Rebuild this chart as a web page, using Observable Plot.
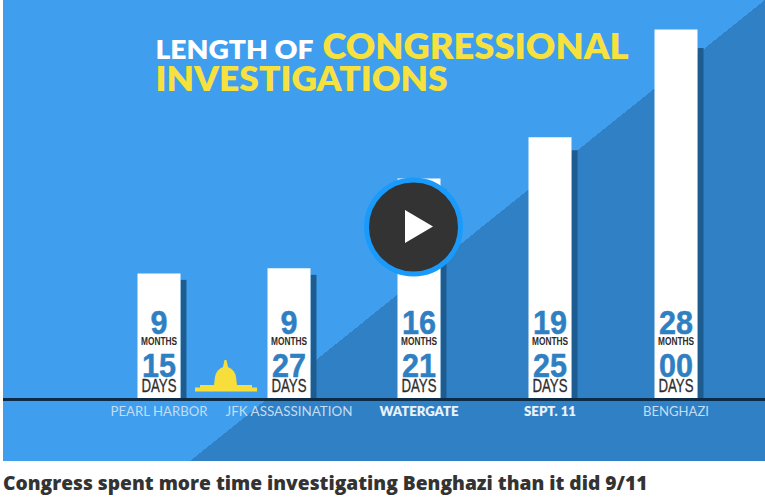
<!DOCTYPE html>
<html>
<head>
<meta charset="utf-8">
<script src="https://cdn.jsdelivr.net/npm/d3@7"></script>
<script src="https://cdn.jsdelivr.net/npm/@observablehq/plot@0.6"></script>
<style>
  html, body { margin: 0; padding: 0; background: #fff; overflow: hidden; }
  #stage { position: relative; width: 765px; height: 501px; overflow: hidden; }
  #bg { position: absolute; left: 3px; top: 0; width: 762px; height: 461px;
        background-color: #3f9fee;
        background-image: linear-gradient(to bottom right, #3f9fee 50%, #3080c5 50%);
        background-size: 575px 461px; background-position: right top; background-repeat: no-repeat; }
  #chart { position: absolute; left: 0; top: 0; }
  #chart svg { background: transparent; display: block; }
  .overlay { position: absolute; left: 0; top: 0; }
  #caption { position: absolute; left: 3px; top: 469px; white-space: nowrap;
             font: 800 19.2px "Open Sans", sans-serif; color: #333; }
</style>
</head>
<body>
<div id="stage">
  <div id="bg"></div>
  <div id="chart"></div>
  <svg class="overlay" width="765" height="461" aria-hidden="true">
    <path fill="#f7de3a" d="M195 391.5 L195 387.5 L200 387.5 L200 385 L214 385 L215 377 Q216 370 223 367 L224.5 360 L226.5 360 L228 367 Q235 370 236 377 L237 385 L252 385 L252 387.5 L257 387.5 L257 391.5 Z"/>
    <circle cx="413.5" cy="227" r="47" fill="#333" stroke="#1a9bfb" stroke-width="5"/>
    <path fill="#fff" d="M405 210 L433 226.5 L405 243 Z"/>
  </svg>
  <div id="caption">Congress spent more time investigating Benghazi than it did 9/11</div>
</div>
<script>
const events = ["PEARL HARBOR", "JFK ASSASSINATION", "WATERGATE", "SEPT. 11", "BENGHAZI"];
const months = [9, 9, 16, 19, 28];
const days = [15, 27, 21, 25, 0];
const dayLabels = ["15", "27", "21", "25", "00"];
const boldEvents = ["WATERGATE", "SEPT. 11"];
const titleWhite = "LENGTH OF";
const titleYellow1 = "CONGRESSIONAL";
const titleYellow2 = "INVESTIGATIONS";

const table = events.map((name, i) => ({
  name, slot: i, months: months[i], days: days[i], dayLabel: dayLabels[i],
  total: months[i] + days[i] / 30
}));

const sans = '"Liberation Sans", sans-serif';
const head = 'Lato, "Noto Sans", sans-serif';
const blue = "#2f80c2", ink = "#2e2a28", yellow = "#f7e13f";
const inBar = (text, dy, opts) => Plot.text(table, {x: "slot", y: () => 0, text, dy, fontFamily: sans, ...opts});

const plot = Plot.plot({
  width: 765, height: 461,
  marginTop: 0, marginRight: 0, marginBottom: 0, marginLeft: 3,
  x: {type: "linear", domain: [0, 1, 2, 3, 4], range: [158.5, 288.5, 418.5, 549.5, 675.5], axis: null},
  y: {domain: [-62 / 13.2, 399 / 13.2], axis: null},
  marks: [
    Plot.ruleX(table, {x: "slot", y1: 0, y2: d => d.total * 0.95, stroke: "#1d5c91", strokeWidth: 6, dx: 24.5}),
    Plot.ruleX(table, {x: "slot", y1: 0, y2: "total", stroke: "#fff", strokeWidth: 43}),
    Plot.ruleY([0], {stroke: "#0c2b47", strokeWidth: 3}),
    inBar(d => String(d.months), -76, {fontSize: 34, fontWeight: 700, fill: blue, stroke: blue, strokeWidth: 0.5, className: "num"}),
    inBar(() => "MONTHS", -58, {fontSize: 11, fontWeight: 700, fill: ink, className: "months"}),
    inBar("dayLabel", -33, {fontSize: 34, fontWeight: 700, fill: blue, stroke: blue, strokeWidth: 0.5, className: "num"}),
    inBar(() => "DAYS", -13, {fontSize: 18, fontWeight: 400, fill: ink, stroke: ink, strokeWidth: 0.3, className: "days"}),
    Plot.text(table.filter(d => !boldEvents.includes(d.name)), {x: "slot", y: () => 0, text: "name", dy: 12, fontFamily: head, fontSize: 12.5, fill: "#c3dcf3", className: "lab"}),
    Plot.text(table.filter(d => boldEvents.includes(d.name)), {x: "slot", y: () => 0, text: "name", dy: 12, fontFamily: head, fontSize: 12.5, fontWeight: 800, fill: "#e8f2fb", className: "lab"}),
    Plot.text([titleWhite], {frameAnchor: "top-left", text: d => d, dx: 152, dy: 50, lineAnchor: "middle", textAnchor: "start", fontFamily: head, fontWeight: 800, fontSize: 27, fill: "#fff", className: "t1"}),
    Plot.text([titleYellow1], {frameAnchor: "top-left", text: d => d, dx: 319, dy: 47.5, lineAnchor: "middle", textAnchor: "start", fontFamily: head, fontWeight: 800, fontSize: 35, fill: yellow, className: "t2"}),
    Plot.text([titleYellow2], {frameAnchor: "top-left", text: d => d, dx: 152, dy: 80, lineAnchor: "middle", textAnchor: "start", fontFamily: head, fontWeight: 800, fontSize: 34, fill: yellow, className: "t3"})
  ]
});
document.getElementById("chart").appendChild(plot);

// The reference's display faces are condensed or wide: fit each text to the width it has there.
const svg = d3.select(plot);
const fit = (sel, w) => svg.selectAll(sel).attr("textLength", w).attr("lengthAdjust", "spacingAndGlyphs");
fit(".months text", 36);
fit(".days text", 35);
fit(".num text", function () { return this.textContent.length === 1 ? 17 : 34; });
const labelWidths = {"PEARL HARBOR": 97, "JFK ASSASSINATION": 127, "WATERGATE": 79, "SEPT. 11": 52, "BENGHAZI": 66};
fit(".lab text", function () { return labelWidths[this.textContent]; });
fit(".t1 text", 158);
fit(".t2 text", 306);
fit(".t3 text", 292);
</script>
</body>
</html>
